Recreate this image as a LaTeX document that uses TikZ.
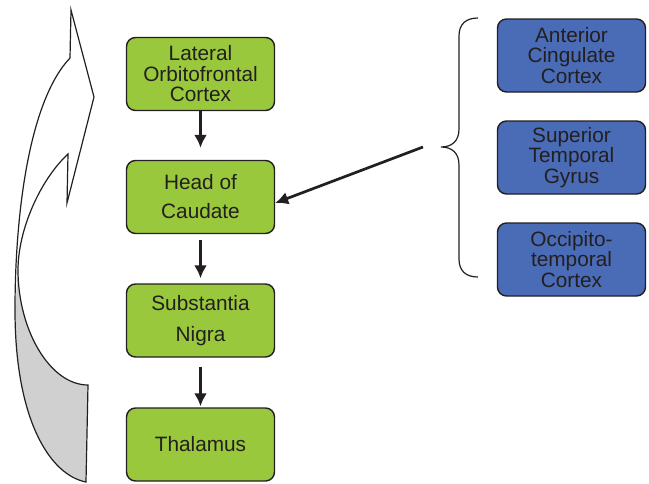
\documentclass[tikz,border=0pt]{standalone}
\usepackage{fontspec}
\setmainfont{Liberation Sans}
\usepackage{tikz}
\usetikzlibrary{arrows.meta,calc}

\definecolor{boxgreen}{RGB}{153,200,60}
\definecolor{boxblue}{RGB}{74,107,181}
\definecolor{edgegray}{RGB}{35,31,32}
\definecolor{ribbongray}{RGB}{208,208,208}

\begin{document}
\begin{tikzpicture}[x=1pt, y=-1pt,
  region/.style={draw=edgegray, line width=1.4pt, rounded corners=9pt,
    minimum width=148pt, minimum height=73pt, inner sep=0pt, align=center,
    text=edgegray, font=\fontsize{20.8}{20.5}\selectfont},
  loopbox/.style={region, fill=boxgreen},
  inbox/.style={region, fill=boxblue},
  flow/.style={arrows={-Latex[length=13pt,width=13pt]}, line width=2.7pt, draw=edgegray},
  thin/.style={line width=1.2pt, draw=edgegray}]
\useasboundingbox (0,0) rectangle (649,483);

\node[loopbox] at (200.5,74) (lof) {Lateral\\Orbitofrontal\\Cortex};
\node[loopbox] at (200.5,197) (hoc) {Head of\\[8.5pt]Caudate};
\node[loopbox] at (200.5,320.5) (sn) {Substantia\\[10.5pt]Nigra};
\node[loopbox] at (200.5,444.5) (thal) {Thalamus};

\node[inbox] at (571.5,55.5) (acc) {Anterior\\Cingulate\\Cortex};
\node[inbox] at (571.5,157.5) (stg) {Superior\\Temporal\\Gyrus};
\node[inbox] at (571.5,259.5) (otc) {Occipito-\\temporal\\Cortex};

\draw[flow, shorten >=12pt] (lof) -- (hoc);
\draw[flow, shorten <=6pt, shorten >=5pt] (hoc) -- (sn);
\draw[flow, shorten <=9pt, shorten >=1pt] (sn) -- (thal);

%brace round the three inputs
\coordinate (brtip) at (441,147);
\path[thin] (478,18) .. controls (466,18) and (459,24) .. (459,36)
  -- (459,129) .. controls (459,141) and (452,147) .. (brtip)
  .. controls (452,147) and (459,153) .. (459,165)
  -- (459,259) .. controls (459,271) and (466,277) .. (478,277);
\draw[flow] ($(brtip)+(-18,0)$) -- ($(hoc.east)+(0,6)$);

%curved loop arrow, back side in grey
\fill[ribbongray] (18,270) .. controls (18,330) and (50,385) .. (88,385)
  -- (86,482) .. controls (50,475) and (15,420) .. (15,310) -- cycle;
\path[thin] (86,482) .. controls (50,475) and (15,420) .. (15,310)
  .. controls (15,210) and (30,100) .. (70,58) -- (71,10) -- (94,97)
  -- (67,203) -- (68,154) .. controls (40,180) and (18,230) .. (18,270)
  .. controls (18,330) and (50,385) .. (88,385) -- cycle;

\end{tikzpicture}
\end{document}
